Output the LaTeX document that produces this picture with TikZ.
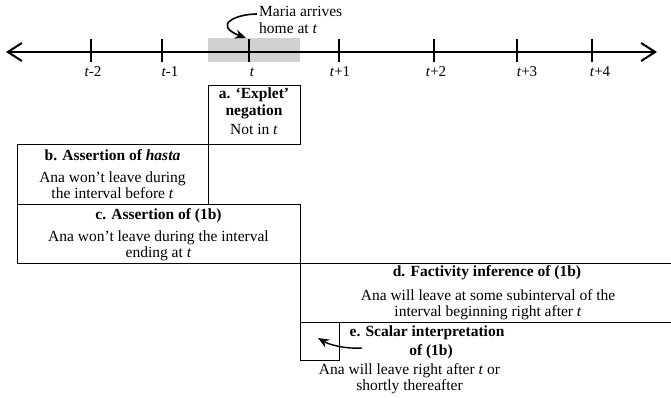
\documentclass[tikz,border=0pt]{standalone}
\usepackage{fontspec}
\setmainfont{Liberation Serif}
\usetikzlibrary{arrows.meta}
\begin{document}
\begin{tikzpicture}[x=1pt,y=-1pt,
  box/.style={draw, line width=1.1pt, inner sep=0pt, anchor=north west},
  ttl/.style={font=\fontsize{15.5}{17.5}\selectfont\bfseries, align=center, inner sep=0pt},
  body/.style={font=\fontsize{15.5}{16.5}\selectfont, align=center, inner sep=0pt},
  tlab/.style={font=\fontsize{15}{16}\selectfont, inner sep=0pt},
  tick/.style={line width=1.2pt},
  pointer/.style={line width=1.6pt, -{Stealth[length=11pt,width=9pt]}}]
\useasboundingbox (0,0) rectangle (671,398);
\clip (0,0) rectangle (671,398);
% shaded interval
\fill[black!18] (208,38) rectangle (300,62);
% axis
\coordinate (L) at (6,52);
\coordinate (R) at (657,52);
\draw[line width=1.6pt, {Straight Barb[length=14pt,width=18pt,line width=2pt]}-{Straight Barb[length=14pt,width=18pt,line width=2pt]}] (L) -- (R);
% ticks
\foreach \n/\x/\lx/\lab in {m2/91/93/{\textit{t}-2}, m1/162/170/{\textit{t}-1}, z/249/252/{\textit{t}}, p1/339/340/{\textit{t}+1}, p2/434/436/{\textit{t}+2}, p3/517/527/{\textit{t}+3}, p4/592/600/{\textit{t}+4}}{
  \coordinate (top\n) at (\x,39);
  \coordinate (bot\n) at (\x,62);
  \draw[tick] (top\n) -- (bot\n);
  \node[tlab] (lab\n) at (\lx,72) {\lab};
}
% Maria label and curved arrow
\node[body, align=left, anchor=west] (maria) at (259,20) {Maria arrives\\home at \textit{t}};
\coordinate (mstart) at (257,14);
\coordinate (mend) at (246,38);
\draw[pointer] (mstart) .. controls (236,14) and (212,25) .. (mend);
% box a
\node[box, minimum width=92pt, minimum height=59pt] (a) at (208,85) {};
\node[ttl] (at) at (254,103.5) {a. ‘Explet’\\negation};
\node[body] (ab) at (254,129) {Not in \textit{t}};
% box b
\node[box, minimum width=191pt, minimum height=60pt] (b) at (17,144) {};
\node[ttl] (bt) at (112.5,155) {b. Assertion of \textit{hasta}};
\node[body] (bb) at (112.5,185) {Ana won’t leave during\\the interval before \textit{t}};
% box c
\node[box, minimum width=283pt, minimum height=59pt] (c) at (17,204) {};
\node[ttl] (ct) at (158.5,216) {c. Assertion of (1b)};
\node[body] (cb) at (158.5,246) {Ana won’t leave during the interval\\ending at \textit{t}};
% box d (open to the right)
\node[box, minimum width=390pt, minimum height=59pt] (d) at (300,263) {};
\node[ttl] (dt) at (487,273) {d. Factivity inference of (1b)};
\node[body] (db) at (488,304.5) {Ana will leave at some subinterval of the\\interval beginning right after \textit{t}};
% box e
\node[box, minimum width=39pt, minimum height=38pt] (e) at (300,322) {};
\node[ttl] (et1) at (427,333) {e. Scalar interpretation};
\node[ttl] (et2) at (431,352) {of (1b)};
\node[body] (eb) at (409.5,378.5) {Ana will leave right after \textit{t} or\\shortly thereafter};
\coordinate (estart) at (362,348);
\coordinate (eend) at (318,338);
\draw[pointer, line width=1.4pt] (estart) .. controls (345,349) and (330,345) .. (eend);
\end{tikzpicture}
\end{document}
